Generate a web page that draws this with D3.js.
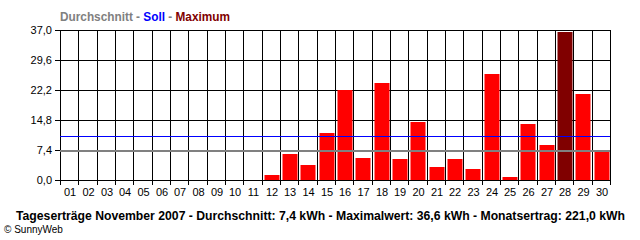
<!DOCTYPE html>
<html>
<head>
<meta charset="utf-8">
<script src="https://cdn.jsdelivr.net/npm/d3@7"></script>
<style>
  body { margin: 0; background: #fff; }
  svg { display: block; }
</style>
</head>
<body>
<svg id="chart" width="640" height="240"></svg>
<script>
const days = d3.range(1, 31).map(d => String(d).padStart(2, "0"));
const yields = [0, 0, 0, 0, 0, 0, 0, 0, 0, 0, 0, 1.2, 6.4, 3.7, 11.7, 22.1, 5.5, 24.0, 5.3, 14.2,
                3.1, 5.3, 2.6, 26.2, 0.8, 13.7, 8.7, 36.6, 21.1, 7.2];
const yTicks = [0, 7.4, 14.8, 22.2, 29.6, 37.0];
const average = 7.4;
const target = 10.8;
const maxDay = "28";

const svg = d3.select("#chart"),
      margin = { top: 30, right: 30, bottom: 60, left: 60 },
      width = +svg.attr("width") - margin.left - margin.right,
      height = +svg.attr("height") - margin.top - margin.bottom;

const fmt = v => v.toFixed(1).replace(".", ",");

const x = d3.scaleBand().domain(days).range([0, width]).paddingInner(0.12).paddingOuter(0.06);
const y = d3.scaleLinear().domain([0, 37]).range([height, 0]);

const g = svg.append("g").attr("transform", `translate(${margin.left},${margin.top})`);

// column boundaries
const step = x.step();
const bounds = d3.range(0, days.length + 1).map(i => Math.round(i * width / days.length));

// vertical grid
g.selectAll(".vgrid")
  .data(bounds)
  .enter().append("line")
  .attr("x1", d => d + 0.5).attr("x2", d => d + 0.5)
  .attr("y1", 0).attr("y2", height + 5)
  .attr("stroke", "#000").attr("shape-rendering", "crispEdges");

// horizontal grid
g.selectAll(".hgrid")
  .data(yTicks)
  .enter().append("line")
  .attr("x1", -5).attr("x2", width + 1)
  .attr("y1", d => Math.round(y(d)) + 0.5).attr("y2", d => Math.round(y(d)) + 0.5)
  .attr("stroke", "#000").attr("shape-rendering", "crispEdges");

// bars
g.selectAll(".bar")
  .data(yields.map((v, i) => ({ day: days[i], v })).filter(d => d.v > 0))
  .enter().append("rect")
  .attr("x", d => Math.round(x(d.day)) + 1.5)
  .attr("width", Math.round(x.bandwidth()) - 1)
  .attr("y", d => Math.round(y(d.v)))
  .attr("height", d => Math.round(height - y(d.v)))
  .attr("fill", d => d.day === maxDay ? "#800000" : "#ff0000");

// average line
g.append("line")
  .attr("x1", 0).attr("x2", width)
  .attr("y1", y(average) + 1).attr("y2", y(average) + 1)
  .attr("stroke", "#808080").attr("stroke-width", 2)
  .attr("shape-rendering", "crispEdges");

// target line
g.append("line")
  .attr("x1", 0).attr("x2", width)
  .attr("y1", Math.round(y(target)) + 0.5).attr("y2", Math.round(y(target)) + 0.5)
  .attr("stroke", "#0000ff").attr("shape-rendering", "crispEdges");

// y labels
g.selectAll(".ylab")
  .data(yTicks)
  .enter().append("text")
  .attr("x", -8)
  .attr("y", d => y(d) + 4)
  .attr("text-anchor", "end")
  .style("font-family", "Liberation Sans, Arial, sans-serif")
  .style("font-size", "11px")
  .text(fmt);

// x labels
g.selectAll(".xlab")
  .data(days)
  .enter().append("text")
  .attr("x", (d, i) => (bounds[i] + bounds[i + 1]) / 2 + 1)
  .attr("y", height + 16)
  .attr("text-anchor", "middle")
  .style("font-family", "Liberation Sans, Arial, sans-serif")
  .style("font-size", "11px")
  .text(d => d);

// legend title
const title = svg.append("text")
  .attr("x", 60).attr("y", 21)
  .attr("textLength", 170).attr("lengthAdjust", "spacingAndGlyphs")
  .style("font-family", "Liberation Sans, Arial, sans-serif")
  .style("font-size", "12px")
  .style("font-weight", "bold");
title.append("tspan").attr("fill", "#808080").text("Durchschnitt - ");
title.append("tspan").attr("fill", "#0000ff").text("Soll");
title.append("tspan").attr("fill", "#808080").text(" - ");
title.append("tspan").attr("fill", "#800000").text("Maximum");

// caption
svg.append("text")
  .attr("x", 16).attr("y", 220)
  .attr("textLength", 609).attr("lengthAdjust", "spacingAndGlyphs")
  .style("font-family", "Liberation Sans, Arial, sans-serif")
  .style("font-size", "12px")
  .style("font-weight", "bold")
  .text(`Tageserträge November 2007 - Durchschnitt: ${fmt(average)} kWh - Maximalwert: ${fmt(d3.max(yields))} kWh - Monatsertrag: ${fmt(221.0)} kWh`);

svg.append("text")
  .attr("x", 4).attr("y", 233)
  .style("font-family", "Liberation Sans, Arial, sans-serif")
  .style("font-size", "10px")
  .text("© SunnyWeb");
</script>
</body>
</html>
